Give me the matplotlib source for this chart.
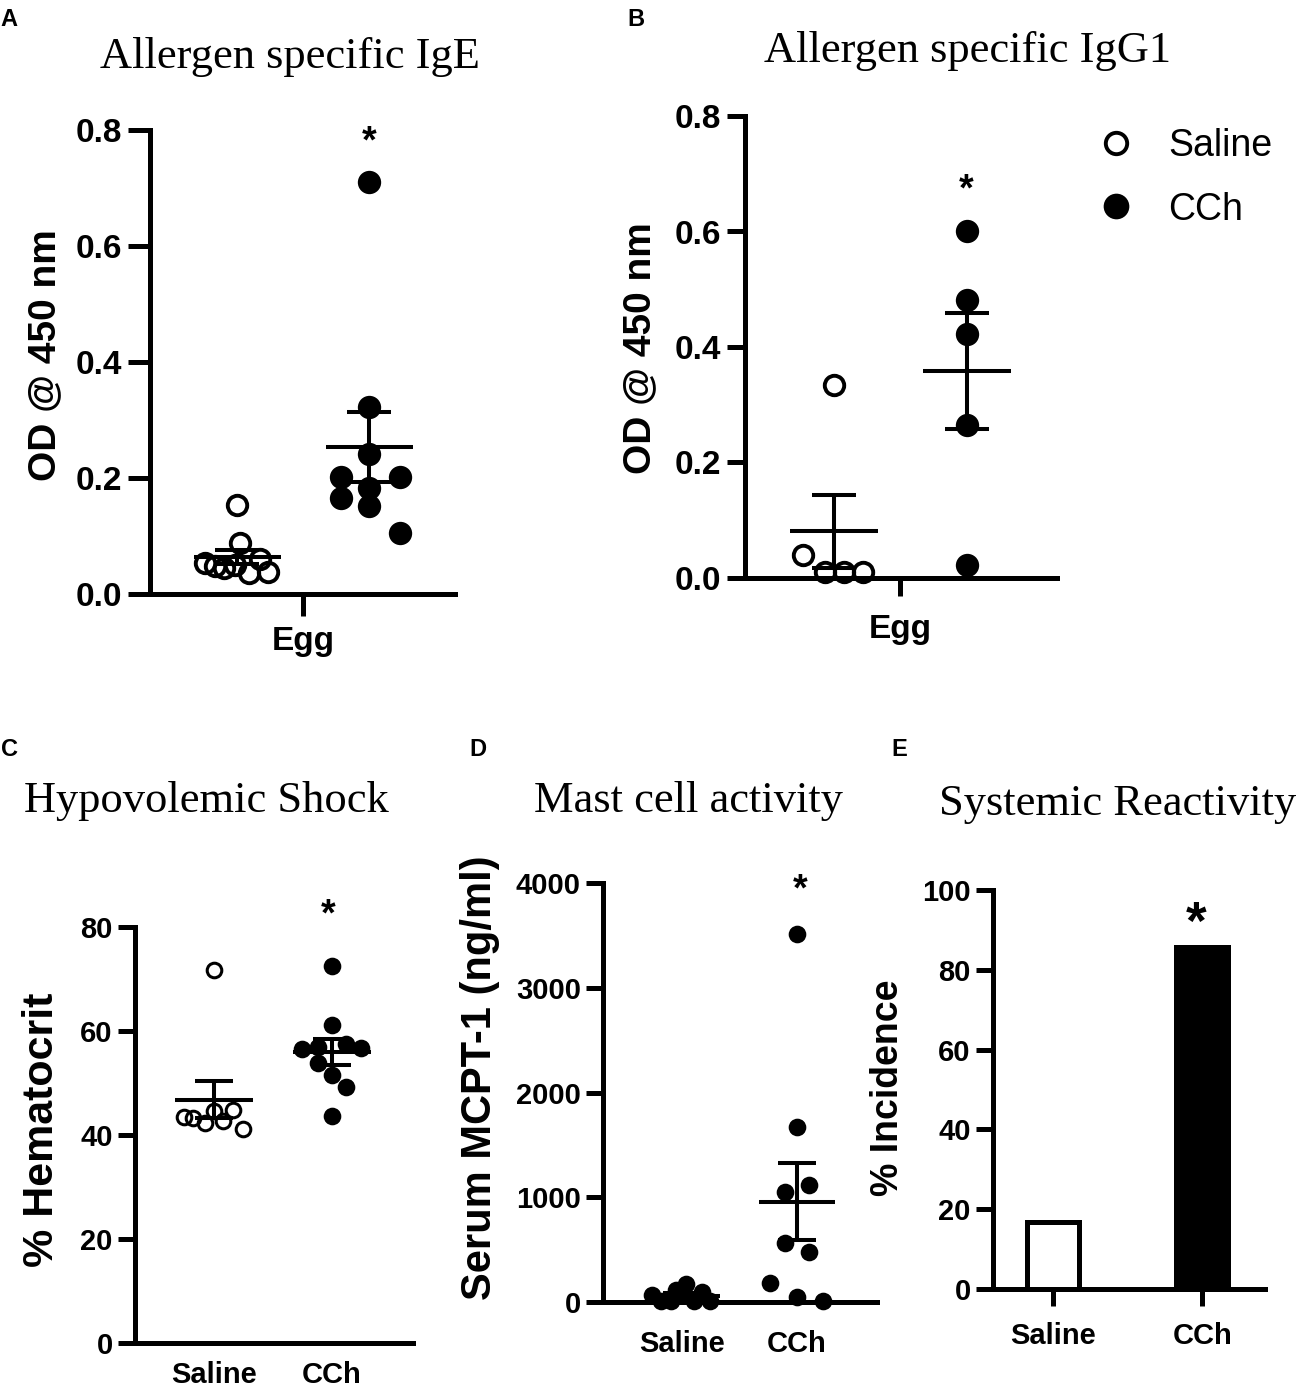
import numpy as np
import matplotlib
matplotlib.use("Agg")
import matplotlib.pyplot as plt

plt.rcParams['font.family'] = ['Liberation Sans', 'DejaVu Sans']

W, H = 1299, 1391

# ---- data ----
groups = ['Saline', 'CCh']

# A: allergen specific IgE (OD @ 450 nm)
ige_saline = [0.153, 0.088, 0.053, 0.049, 0.044, 0.050, 0.036, 0.061, 0.038]
ige_cch = [0.711, 0.323, 0.241, 0.202, 0.202, 0.183, 0.165, 0.151, 0.106]
# B: allergen specific IgG1
igg1_saline = [0.334, 0.040, 0.010, 0.010, 0.010]
igg1_cch = [0.601, 0.482, 0.422, 0.265, 0.022]
# C: % hematocrit
hct_saline = [71.7, 43.5, 43.3, 42.4, 44.7, 42.6, 44.8, 41.1]
hct_cch = [72.5, 61.2, 56.5, 57.0, 57.5, 56.7, 53.9, 51.5, 49.2, 43.7]
# D: serum MCPT-1 (ng/ml)
mcpt_saline = [65, 5, 5, 115, 175, 5, 100, 5]
mcpt_cch = [3510, 1668, 1053, 1117, 560, 480, 178, 51, 10]
# E: % incidence
incidence = [16.67, 85.71]

# horizontal scatter of the points inside each column (x units)
ige_saline_dx = [0, 0.02, -0.24, -0.17, -0.10, -0.02, 0.09, 0.17, 0.23]
ige_cch_dx = [0, 0, 0, -0.21, 0.23, 0, -0.21, 0, 0.23]
igg1_saline_dx = [0, -0.23, -0.07, 0.075, 0.22]
igg1_cch_dx = [0, 0, 0, 0, 0]
hct_saline_dx = [0, -0.25, -0.18, -0.08, 0, 0.08, 0.16, 0.25]
hct_cch_dx = [0, 0, -0.25, -0.12, 0.12, 0.25, -0.12, 0, 0.12, 0]
mcpt_saline_dx = [-0.26, -0.18, -0.10, -0.05, 0.03, 0.10, 0.17, 0.24]
mcpt_cch_dx = [0, 0, -0.10, 0.11, -0.10, 0.11, -0.23, 0, 0.23]


def rect(l, r, t, b):
    return [l / W, 1 - b / H, (r - l) / W, (b - t) / H]


def fx(px):
    return px / W


def fy(py):
    return 1 - py / H


def style(ax, fs, ylen, xlen, xpad):
    for s in ['top', 'right']:
        ax.spines[s].set_visible(False)
    for s in ['left', 'bottom']:
        ax.spines[s].set_linewidth(3.6)
    ax.tick_params(axis='y', length=ylen, width=3.6, pad=4, labelsize=fs)
    ax.tick_params(axis='x', length=xlen, width=3.6, pad=xpad, labelsize=fs)
    for lab in ax.get_xticklabels() + ax.get_yticklabels():
        lab.set_fontweight('bold')


def column(ax, x, vals, dx, filled, ms, mew, cap):
    vals = np.array(vals)
    m = vals.mean()
    sem = vals.std(ddof=1) / np.sqrt(len(vals))
    ax.hlines(m, x - 0.33, x + 0.33, color='black', lw=2.9, zorder=2)
    ax.errorbar([x], [m], yerr=[sem], fmt='none', ecolor='black',
                elinewidth=2.9, capsize=cap, capthick=2.9, zorder=2)
    if filled:
        h, = ax.plot(x + np.array(dx), vals, 'o', ls='none', ms=ms + mew,
                     mfc='black', mec='black', mew=0, clip_on=False, zorder=3)
    else:
        h, = ax.plot(x + np.array(dx), vals, 'o', ls='none', ms=ms,
                     mfc='none', mec='black', mew=mew, clip_on=False, zorder=3)
    return h


fig = plt.figure(figsize=(W / 100, H / 100), dpi=100)

# ---------- A ----------
axA = fig.add_axes(rect(150, 455, 130, 594))
column(axA, 0, ige_saline, ige_saline_dx, False, 14, 2.8, 16)
column(axA, 1, ige_cch, ige_cch_dx, True, 14, 2.8, 16)
axA.set_xlim(-0.66, 1.65)
axA.set_ylim(0, 0.8)
axA.set_yticks([0, 0.2, 0.4, 0.6, 0.8])
axA.set_yticklabels(['0.0', '0.2', '0.4', '0.6', '0.8'])
axA.set_xticks([0.5])
axA.set_xticklabels(['Egg'])
style(axA, 24, 16, 16, 7)

# ---------- B ----------
axB = fig.add_axes(rect(745, 1057, 116, 578))
hs = column(axB, 0, igg1_saline, igg1_saline_dx, False, 14, 2.8, 16)
hc = column(axB, 1, igg1_cch, igg1_cch_dx, True, 14, 2.8, 16)
axB.set_xlim(-0.67, 1.68)
axB.set_ylim(0, 0.8)
axB.set_yticks([0, 0.2, 0.4, 0.6, 0.8])
axB.set_yticklabels(['0.0', '0.2', '0.4', '0.6', '0.8'])
axB.set_xticks([0.5])
axB.set_xticklabels(['Egg'])
style(axB, 24, 13, 13, 13)
axB.legend([hs, hc], groups, loc='center left',
           bbox_to_anchor=(fx(1097), fy(178)), bbox_transform=fig.transFigure,
           frameon=False, fontsize=27, handlelength=1.0, handletextpad=0.9,
           labelspacing=0.72, borderpad=0, borderaxespad=0, markerscale=1.1)

# ---------- C ----------
axC = fig.add_axes(rect(135, 413, 927, 1343))
column(axC, 0, hct_saline, hct_saline_dx, False, 10.5, 2.2, 14)
column(axC, 1, hct_cch, hct_cch_dx, True, 10.5, 2.2, 14)
axC.set_xlim(-0.67, 1.69)
axC.set_ylim(0, 80)
axC.set_yticks([0, 20, 40, 60, 80])
axC.set_xticks([0, 1])
axC.set_xticklabels(groups)
style(axC, 21, 12, 0, 13)

# ---------- D ----------
axD = fig.add_axes(rect(603, 877, 883, 1302))
column(axD, 0, mcpt_saline, mcpt_saline_dx, True, 10.5, 2.2, 14)
column(axD, 1, mcpt_cch, mcpt_cch_dx, True, 10.5, 2.2, 14)
axD.set_xlim(-0.69, 1.70)
axD.set_ylim(0, 4000)
axD.set_yticks([0, 1000, 2000, 3000, 4000])
axD.set_xticks([0, 1])
axD.set_xticklabels(groups)
style(axD, 21, 12, 0, 20)

# ---------- E ----------
axE = fig.add_axes(rect(993, 1265, 890, 1289))
axE.bar([0, 1], incidence, width=0.35, color=['white', 'black'],
        edgecolor='black', linewidth=3.6, zorder=2)
axE.set_xlim(-0.40, 1.42)
axE.set_ylim(0, 100)
axE.set_yticks([0, 20, 40, 60, 80, 100])
axE.set_xticks([0, 1])
axE.set_xticklabels(groups)
style(axE, 21, 12, 12, 12)

# ---------- titles ----------
serif = ['Liberation Serif', 'DejaVu Serif']
titles = [('Allergen specific IgE', 290, 68),
          ('Allergen specific IgG1', 968, 62),
          ('Hypovolemic Shock', 206, 812),
          ('Mast cell activity', 688, 812),
          ('Systemic Reactivity', 1118, 815)]
for t, x, y in titles:
    fig.text(fx(x), fy(y), t, family=serif, fontsize=32, ha='center', va='baseline')

# panel letters
for t, x, y in [('A', 0, 26), ('B', 627, 26), ('C', 1, 756), ('D', 469, 756), ('E', 891, 756)]:
    fig.text(fx(x), fy(y), t, fontsize=17, fontweight='bold', ha='left', va='baseline')

# y labels
ylabels = [('OD @ 450 nm', 45, 355, 28),
           ('OD @ 450 nm', 640, 348, 28),
           ('% Hematocrit', 42, 1130, 31),
           ('Serum MCPT-1 (ng/ml)', 480, 1078, 30),
           ('% Incidence', 888, 1088, 27)]
for t, x, y, fs in ylabels:
    fig.text(fx(x), fy(y), t, fontsize=fs, fontweight='bold', rotation=90,
             ha='center', va='center')

# significance stars
for x, y, fs in [(369, 124, 27), (966, 172, 27), (328, 897, 27), (800, 872, 27), (1196, 900, 38)]:
    fig.text(fx(x), fy(y), '*', fontsize=fs, fontweight='bold', ha='center', va='top')

fig.savefig('out.png', dpi=100)
